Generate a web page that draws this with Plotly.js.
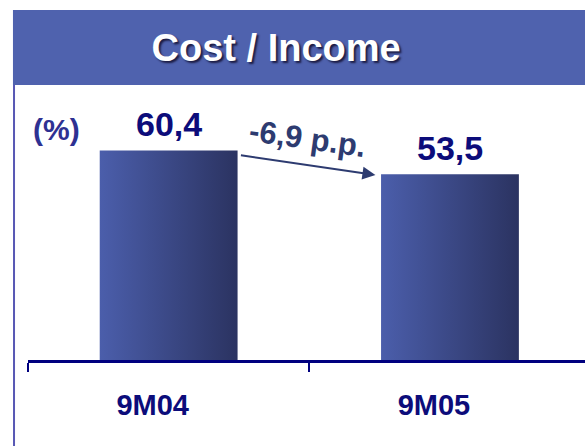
<!DOCTYPE html>
<html>
<head>
<meta charset="utf-8">
<script src="https://cdn.plot.ly/plotly-3.0.1.min.js"></script>
<style>
  html, body { margin: 0; padding: 0; background: #fff; }
  #plot { width: 585px; height: 446px; }
</style>
</head>
<body>
<div id="plot"></div>
<script>
// chart data
let periods = ["9M04", "9M05"];
let ratios = [60.4, 53.5];
let changeLabel = "-6,9 p.p.";

let barWidth = 0.49;
let navy = "#0c0c7a";
let slate = "#2d3b70";
let fontFam = "Liberation Sans, Arial";

// bars are drawn as filled polygons so they can carry a gradient
let traces = [];
ratios.forEach((v, i) => {
    let x0 = i - barWidth / 2, x1 = i + barWidth / 2;
    traces.push({
        x: [x0, x1, x1, x0, x0],
        y: [0, 0, v, v, 0],
        mode: "lines",
        fill: "toself",
        line: { width: 0 },
        fillgradient: {
            type: "horizontal",
            colorscale: [[0, "#4b5eab"], [1, "#2b3361"]]
        },
        hoverinfo: "skip",
        showlegend: false
    });
});

// value labels above the bars
let valueNotes = ratios.map((v, i) => ({
    x: i, y: v, text: v.toFixed(1).replace(".", ","),
    showarrow: false, yanchor: "bottom", yshift: 5,
    font: { family: fontFam, size: 34, weight: 700, color: navy }
}));

let layout = {
    width: 585,
    height: 446,
    margin: { l: 28, r: 0, t: 90, b: 86 },
    paper_bgcolor: "#ffffff",
    plot_bgcolor: "#ffffff",
    title: {
        text: "Cost / Income",
        x: 0.472, xanchor: "center",
        y: 0.892, yanchor: "middle",
        font: { family: fontFam, size: 38, weight: 700, color: "#ffffff",
                shadow: "2px 2px 2px #1c1c44" }
    },
    xaxis: {
        range: [-0.5, 1.48],
        showgrid: false,
        zeroline: false,
        showline: true,
        linecolor: "#00007f",
        linewidth: 3,
        tickvals: [0, 1],
        ticktext: periods,
        ticks: "",
        ticklabelshift: -16,
        ticklabelstandoff: 17,
        tickfont: { family: fontFam, size: 29, weight: 700, color: navy },
        minor: {
            tick0: -0.5, dtick: 1,
            ticks: "outside", ticklen: 9, tickwidth: 2, tickcolor: "#00007f",
            showgrid: false
        },
        fixedrange: true
    },
    yaxis: {
        range: [0, 77.8],
        visible: false,
        fixedrange: true
    },
    shapes: [
        // title banner
        { type: "rect", xref: "paper", yref: "paper",
          x0: -0.027, x1: 1.0, y0: 1.0185, y1: 1.2963,
          fillcolor: "#4f62ae", line: { width: 0 }, layer: "below" },
        // left frame line
        { type: "line", xref: "paper", yref: "paper",
          x0: -0.0251, x1: -0.0251, y0: 1.0185, y1: -0.32,
          line: { color: "#5858b4", width: 2 } }
    ],
    annotations: valueNotes.concat([
        { text: "(%)", xref: "paper", yref: "paper", x: 0.0503, y: 0.852,
          xanchor: "center", yanchor: "middle", showarrow: false,
          font: { family: fontFam, size: 30, weight: 700, color: "#2e3192" } },
        { text: changeLabel, xref: "paper", yref: "paper", x: 0.501, y: 0.822,
          xanchor: "center", yanchor: "middle", showarrow: false, textangle: 8,
          font: { family: fontFam, size: 31, weight: 700, color: slate } },
        { text: "", x: 0.735, y: 53.3, ax: -136, ay: -20,
          showarrow: true, arrowhead: 2, arrowsize: 1.3, arrowwidth: 2, arrowcolor: slate }
    ]),
    showlegend: false
};

Plotly.newPlot("plot", traces, layout, { displayModeBar: false, staticPlot: true });
</script>
</body>
</html>
